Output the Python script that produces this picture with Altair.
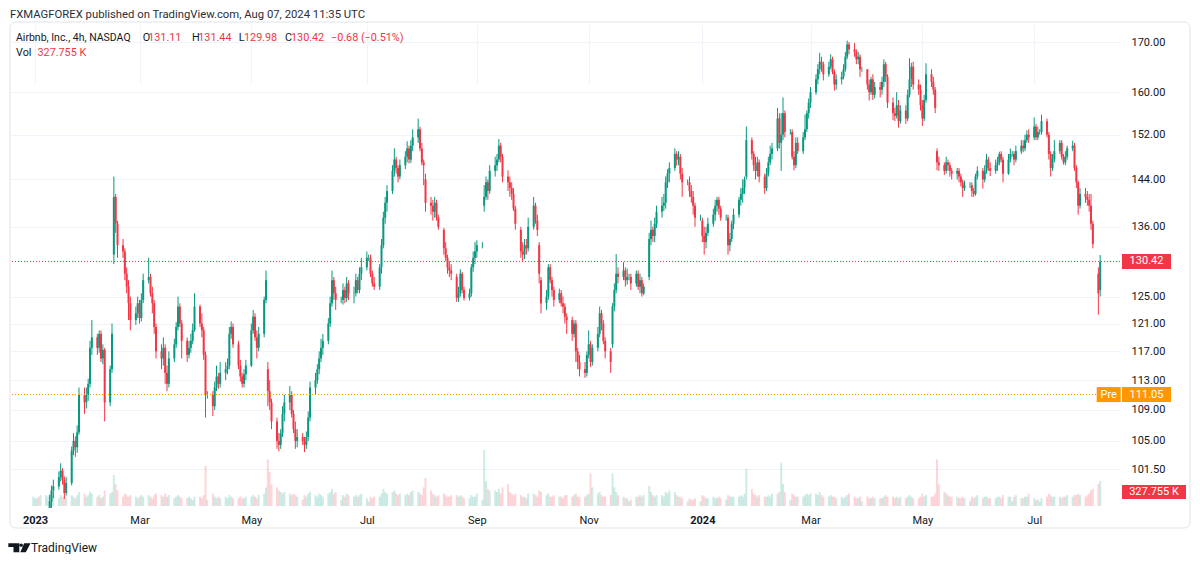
import altair as alt
import pandas as pd

UP = "#089981"
DOWN = "#f23645"
ORANGE = "#ff9800"
INK = "#131722"
GRID = "#f0f3fa"
FONT = "Roboto"

# one candle per weekday starting here (daily candles)
first_session = "2023-01-02"

opens = [
    87.5, 88.0, 88.5, 90.2, 88.3,  92.4, 94.8, 96.0, 97.6, 98.9,
    99.4, 100.5, 101.3, 100.2, 98.6,  99.8, 103.8, 105.0, 104.2, 106.1,
    111.0, 110.0, 111.0, 112.5, 117.5,  119.0, 117.5, 119.5, 116.0, 117.2,
    110.0, 114.5, 131.5, 141.0, 136.5,  133.0, 132.0, 128.5, 126.5, 124.0,
    121.5, 122.5, 124.0, 121.8, 124.5,  127.5, 128.0, 125.5, 124.0, 120.5,
    117.0, 116.0, 117.5, 114.0, 112.5,  116.0, 118.0, 120.5, 123.5, 121.0,
    118.5, 116.5, 117.5, 118.5, 120.0,  123.5, 121.0, 120.0, 116.5, 111.0,
    111.0, 109.5, 112.0, 113.5, 112.5,  114.0, 114.5, 115.0, 119.5, 120.5,
    118.0, 115.0, 113.5, 112.5, 113.8,  115.0, 120.0, 122.0, 119.0, 117.5,
    119.5, 124.5, 114.5, 111.5, 110.0,  107.5, 105.0, 104.5, 106.0, 108.5,
    110.0, 111.0, 108.5, 106.5, 105.0,  105.5, 105.0, 104.5, 105.5, 108.0,
    112.0, 113.0, 114.5, 116.0, 117.5,  118.5, 121.0, 124.0, 127.5, 125.5,
    124.5, 124.5, 126.0, 124.8, 127.0,  125.5, 125.5, 127.5, 126.0, 128.5,
    129.5, 131.0, 131.0, 128.5, 127.0,  126.5, 129.5, 133.0, 137.5, 140.0,
    142.0, 145.5, 147.5, 146.0, 144.5,  146.5, 148.0, 149.5, 147.5, 150.0,
    151.5, 153.0, 149.5, 147.0, 144.0,  140.0, 139.5, 138.5, 140.0, 137.5,
    135.5, 132.5, 131.0, 129.5, 129.0,  128.0, 124.8, 125.5, 128.5, 126.0,
    124.8, 125.5, 129.5, 131.0, 132.0,  133.0, 139.5, 141.0, 143.5, 142.0,
    145.5, 146.5, 147.5, 150.0, 148.0,  144.5, 143.5, 142.5, 141.5, 139.0,
    135.5, 132.0, 131.5, 133.0, 132.5,  136.0, 139.5, 137.0, 133.0, 127.5,
    124.0, 125.0, 129.5, 127.5, 126.0,  124.5, 125.5, 124.0, 123.5, 122.0,
    121.5, 119.5, 121.0, 117.0, 115.5,  114.5, 114.0, 116.5, 118.0, 115.5,
    117.5, 119.5, 122.5, 121.0, 118.5,  117.0, 118.0, 123.5, 126.0, 128.5,
    128.0, 129.0, 127.5, 128.0, 128.0,  127.0, 128.5, 126.5, 127.5, 125.5,
    128.0, 134.0, 135.5, 134.5, 136.5,  138.5, 139.5, 140.0, 143.5, 145.0,
    146.0, 148.5, 147.5, 148.0, 145.0,  143.5, 143.5, 142.0, 141.0, 139.5,
    137.5, 137.0, 134.5, 133.5, 135.0,  136.5, 138.0, 139.5, 140.5, 139.0,
    137.5, 137.5, 133.0, 134.0, 136.5,  138.0, 140.5, 141.5, 142.5, 144.5,
    151.0, 148.5, 146.5, 145.5, 147.0,  144.5, 142.5, 145.0, 147.0, 148.5,
    149.5, 155.0, 150.5, 152.0, 156.0,  152.5, 152.5, 148.0, 146.5, 150.5,
    149.0, 151.5, 153.0, 156.0, 158.0,  160.0, 162.5, 164.5, 166.0, 165.5,
    163.5, 165.0, 166.5, 164.0, 161.5,  162.5, 163.0, 164.5, 167.0, 169.5,
    168.5, 168.0, 166.5, 167.0, 164.5,  164.5, 161.5, 160.0, 162.5, 159.5,
    161.0, 160.5, 162.0, 165.5, 163.0,  158.0, 156.0, 155.5, 157.5, 154.5,
    156.5, 155.0, 159.5, 162.5, 165.0,  161.5, 160.5, 157.5, 155.0, 158.5,
    163.5, 162.0, 160.5, 149.0, 147.0,  146.5, 145.5, 147.0, 146.5, 145.5,
    145.0, 145.5, 144.5, 143.5, 142.5,  143.0, 143.0, 142.0, 141.5, 144.5,
    145.5, 144.0, 145.5, 147.5, 146.0,  145.5, 146.5, 147.0, 148.5, 147.5,
    145.0, 147.5, 148.5, 148.5, 147.5,  149.0, 150.0, 149.5, 151.0, 152.0,
    151.5, 153.5, 151.5, 152.5, 152.5,  154.5, 152.0, 148.5, 146.0, 147.5,
    149.0, 150.5, 148.0, 147.0, 148.0,  149.5, 150.0, 146.0, 143.5, 139.5,
    141.5, 141.0, 140.5, 139.5, 136.5,  128.5, 126.0,
]

highs = [
    89.0, 89.5, 91.0, 90.5, 93.0,  95.5, 96.8, 98.4, 99.5, 100.2,
    101.2, 102.2, 101.6, 100.6, 100.5,  104.3, 106.0, 105.6, 107.0, 112.0,
    112.0, 112.0, 113.2, 118.5, 121.5,  119.5, 120.0, 120.0, 118.0, 117.5,
    115.0, 121.0, 144.5, 141.5, 137.0,  134.0, 132.5, 129.5, 127.5, 125.0,
    123.5, 125.0, 124.5, 125.5, 128.5,  131.0, 128.5, 126.5, 124.5, 121.0,
    118.0, 119.0, 118.0, 115.0, 117.0,  118.8, 121.2, 125.0, 124.0, 121.5,
    119.0, 118.5, 119.5, 121.0, 125.5,  123.8, 122.5, 120.5, 117.0, 111.5,
    111.5, 112.8, 115.0, 114.0, 115.5,  115.5, 116.0, 120.5, 121.3, 121.0,
    118.5, 115.8, 114.0, 114.5, 115.8,  121.0, 123.0, 122.5, 120.0, 120.5,
    125.0, 129.0, 115.5, 113.0, 110.5,  108.0, 106.0, 106.5, 109.5, 111.0,
    112.2, 111.5, 109.0, 107.5, 106.5,  106.0, 105.5, 106.2, 108.8, 112.8,
    114.0, 115.2, 117.0, 118.8, 119.5,  121.8, 125.0, 129.0, 128.0, 126.5,
    125.0, 127.0, 126.5, 128.0, 127.5,  126.5, 128.5, 128.0, 129.5, 131.0,
    132.0, 131.5, 131.5, 129.0, 128.0,  130.0, 134.0, 138.5, 141.0, 143.0,
    146.5, 149.5, 148.0, 146.5, 147.5,  149.0, 150.8, 150.0, 151.0, 153.0,
    155.0, 153.5, 150.5, 147.5, 145.0,  141.0, 140.5, 141.0, 140.5, 138.0,
    135.8, 133.5, 131.5, 130.5, 130.0,  128.5, 126.5, 129.2, 128.8, 126.5,
    126.2, 130.0, 132.0, 133.5, 133.8,  133.5, 143.0, 144.5, 144.0, 146.5,
    148.0, 148.5, 151.2, 150.5, 148.5,  145.6, 144.5, 143.5, 142.5, 139.5,
    136.0, 133.5, 134.0, 134.0, 137.5,  141.0, 140.0, 138.0, 133.5, 128.0,
    126.0, 130.0, 130.0, 128.0, 126.5,  126.2, 126.0, 125.0, 124.0, 122.5,
    122.0, 121.5, 121.5, 117.5, 116.5,  115.5, 117.0, 120.0, 118.5, 118.0,
    120.5, 123.5, 123.0, 121.5, 119.0,  117.5, 124.0, 127.0, 131.6, 129.5,
    130.3, 129.5, 129.3, 128.5, 128.5,  129.0, 129.0, 128.5, 128.0, 127.0,
    135.0, 137.0, 136.0, 137.5, 139.5,  141.0, 141.5, 144.5, 145.8, 147.0,
    149.5, 149.0, 149.0, 148.5, 146.0,  144.0, 144.5, 143.0, 142.0, 140.0,
    138.0, 137.5, 136.0, 136.0, 137.5,  139.0, 140.5, 141.0, 141.0, 139.5,
    138.0, 138.0, 135.0, 137.0, 139.0,  141.0, 142.5, 144.0, 144.5, 153.5,
    151.5, 149.0, 148.0, 148.0, 147.5,  145.0, 146.0, 148.0, 150.0, 150.5,
    157.0, 156.0, 156.0, 159.0, 156.5,  153.0, 153.0, 149.0, 151.5, 151.5,
    152.5, 155.7, 156.5, 158.8, 161.0,  163.5, 165.5, 167.8, 167.0, 166.0,
    166.0, 167.5, 167.0, 164.5, 163.5,  164.0, 165.5, 168.0, 170.3, 170.0,
    169.8, 168.5, 168.0, 167.5, 165.0,  164.5, 162.5, 163.0, 163.5, 162.0,
    162.0, 163.0, 166.5, 166.0, 163.5,  159.0, 157.0, 160.0, 158.5, 157.5,
    157.5, 160.5, 166.7, 165.8, 166.0,  162.5, 161.5, 158.5, 159.5, 165.7,
    164.5, 163.0, 161.0, 149.5, 148.0,  147.0, 148.0, 147.5, 147.0, 146.0,
    146.0, 146.0, 145.0, 144.0, 143.8,  143.5, 143.5, 142.5, 145.0, 146.3,
    146.0, 146.5, 148.5, 148.0, 147.0,  147.5, 148.0, 148.9, 149.0, 148.0,
    148.5, 149.5, 149.0, 149.0, 150.0,  151.0, 151.0, 152.0, 152.8, 153.0,
    155.2, 154.0, 153.5, 153.0, 155.7,  155.0, 152.5, 149.0, 148.5, 151.0,
    151.0, 151.0, 148.5, 149.0, 150.0,  150.9, 150.5, 146.5, 143.8, 142.5,
    142.5, 142.0, 141.5, 141.5, 137.0,  129.5, 131.44,
]

lows = [
    86.5, 87.0, 88.0, 87.5, 88.0,  92.0, 94.0, 95.5, 96.8, 98.0,
    99.0, 100.0, 99.6, 97.9, 98.3,  99.5, 103.2, 103.0, 103.5, 105.8,
    108.5, 109.2, 110.2, 112.0, 116.5,  116.5, 116.8, 115.5, 115.2, 107.5,
    109.5, 114.0, 130.0, 135.0, 131.0,  131.0, 127.5, 125.5, 121.5, 120.0,
    120.8, 121.8, 121.0, 121.3, 124.0,  127.0, 125.0, 122.5, 119.5, 116.0,
    114.5, 115.0, 112.5, 111.5, 112.0,  115.5, 117.5, 120.0, 120.5, 116.0,
    115.5, 116.0, 116.8, 118.0, 119.8,  120.5, 119.0, 115.8, 108.0, 110.5,
    108.2, 109.0, 111.5, 111.8, 112.0,  113.0, 113.8, 114.5, 118.8, 117.5,
    114.5, 112.8, 112.0, 112.0, 113.0,  114.8, 119.5, 118.5, 116.0, 117.0,
    119.0, 124.0, 109.5, 109.0, 106.5,  104.0, 103.7, 104.0, 105.5, 107.5,
    109.0, 108.0, 106.0, 104.0, 104.2,  104.5, 103.6, 104.0, 105.0, 107.5,
    111.0, 112.5, 113.8, 115.5, 116.5,  118.0, 120.5, 123.5, 124.5, 123.0,
    124.0, 123.8, 124.0, 124.2, 124.5,  124.0, 125.0, 125.5, 125.5, 127.5,
    129.0, 130.5, 128.0, 126.5, 126.0,  126.0, 128.5, 132.5, 136.5, 138.5,
    141.5, 144.5, 145.0, 143.5, 144.0,  145.8, 147.0, 146.8, 146.9, 149.0,
    150.5, 149.0, 146.5, 143.0, 138.5,  138.0, 137.0, 137.5, 137.0, 135.5,
    131.5, 130.5, 128.5, 128.0, 127.5,  124.2, 124.2, 125.0, 125.5, 124.4,
    124.4, 125.0, 128.8, 130.0, 131.0,  132.5, 138.5, 140.5, 140.5, 141.5,
    144.5, 145.5, 147.0, 147.0, 143.5,  142.0, 141.0, 140.5, 138.6, 135.5,
    131.0, 130.5, 130.8, 131.5, 132.0,  135.5, 136.5, 134.5, 127.0, 122.5,
    123.0, 124.5, 127.0, 125.0, 123.5,  124.0, 123.5, 122.5, 121.0, 119.5,
    118.5, 119.0, 115.5, 114.5, 113.5,  113.3, 113.5, 116.0, 114.8, 115.0,
    117.0, 119.0, 120.0, 118.0, 116.0,  114.0, 117.5, 122.8, 125.5, 127.0,
    127.5, 126.5, 126.8, 127.5, 126.0,  126.5, 126.0, 125.5, 125.0, 125.2,
    127.5, 133.0, 133.5, 133.5, 135.8,  137.5, 138.6, 139.0, 142.5, 143.5,
    145.5, 146.4, 146.5, 144.0, 141.0,  143.0, 141.0, 140.0, 138.0, 136.0,
    137.0, 133.5, 131.5, 132.5, 134.5,  136.0, 137.0, 138.5, 138.0, 137.0,
    137.0, 131.5, 132.0, 133.5, 135.6,  137.5, 139.5, 140.0, 141.5, 144.0,
    147.5, 145.5, 144.0, 144.5, 143.5,  141.5, 142.0, 144.5, 146.5, 147.5,
    149.0, 149.5, 145.5, 151.0, 151.5,  152.0, 147.5, 145.6, 146.0, 148.5,
    148.5, 151.0, 152.5, 155.0, 157.0,  159.5, 161.5, 163.5, 164.0, 162.3,
    163.0, 164.5, 163.5, 160.3, 160.5,  161.5, 162.5, 164.0, 166.5, 167.5,
    167.0, 165.5, 165.5, 163.0, 164.0,  160.5, 158.4, 159.5, 158.5, 158.8,
    159.0, 159.5, 161.0, 162.0, 157.0,  154.7, 154.5, 155.0, 153.3, 154.0,
    154.0, 154.5, 159.0, 161.0, 160.5,  159.5, 156.5, 153.6, 154.5, 158.0,
    161.0, 159.5, 156.0, 145.6, 145.5,  144.8, 145.0, 145.5, 144.5, 144.0,
    144.0, 143.5, 142.8, 141.0, 142.0,  142.5, 141.0, 141.0, 141.2, 144.0,
    142.4, 143.5, 145.0, 145.5, 144.6,  145.0, 145.5, 146.5, 147.0, 143.5,
    144.8, 147.0, 148.0, 146.5, 147.0,  148.5, 148.8, 149.0, 150.5, 150.5,
    151.0, 151.0, 151.0, 152.0, 152.0,  151.5, 147.5, 144.5, 145.5, 147.0,
    148.5, 147.5, 146.6, 146.5, 147.5,  149.0, 145.5, 142.5, 138.0, 139.0,
    140.0, 139.5, 138.5, 135.5, 132.5,  122.3, 125.0,
]

closes = [
    88.0, 88.5, 90.2, 88.3, 92.4,  94.8, 96.0, 97.6, 98.9, 99.4,
    100.5, 101.3, 100.2, 98.6, 99.8,  103.8, 105.0, 104.2, 106.1, 111.0,
    110.0, 111.0, 112.5, 117.5, 119.0,  117.5, 119.5, 116.0, 117.2, 110.0,
    114.5, 119.5, 141.0, 136.5, 133.0,  132.0, 128.5, 126.5, 124.0, 121.5,
    122.5, 124.0, 121.8, 124.5, 127.5,  128.0, 125.5, 124.0, 120.5, 117.0,
    116.0, 117.5, 114.0, 112.5, 116.0,  118.0, 120.5, 123.5, 121.0, 118.5,
    116.5, 117.5, 118.5, 120.0, 123.5,  121.0, 120.0, 116.5, 111.0, 111.0,
    109.5, 112.0, 113.5, 112.5, 114.0,  114.5, 115.0, 119.5, 120.5, 118.0,
    115.0, 113.5, 112.5, 113.8, 115.0,  120.0, 122.0, 119.0, 117.5, 119.5,
    124.5, 127.5, 111.5, 110.0, 107.5,  105.0, 104.5, 106.0, 108.5, 110.0,
    111.0, 108.5, 106.5, 105.0, 105.5,  105.0, 104.5, 105.5, 108.0, 112.0,
    113.0, 114.5, 116.0, 117.5, 118.5,  121.0, 124.0, 127.5, 125.5, 124.5,
    124.5, 126.0, 124.8, 127.0, 125.5,  125.5, 127.5, 126.0, 128.5, 129.5,
    131.0, 131.0, 128.5, 127.0, 126.5,  129.5, 133.0, 137.5, 140.0, 142.0,
    145.5, 147.5, 146.0, 144.5, 146.5,  148.0, 149.5, 147.5, 150.0, 151.5,
    153.0, 149.5, 147.0, 146.5, 140.0,  139.5, 138.5, 140.0, 137.5, 136.0,
    132.5, 131.0, 129.5, 129.0, 128.5,  124.8, 125.5, 128.5, 126.0, 124.8,
    125.5, 129.5, 131.0, 132.0, 133.0,  133.0, 141.0, 143.5, 142.0, 145.5,
    146.5, 147.5, 150.0, 148.0, 144.5,  143.5, 142.5, 141.5, 139.0, 136.5,
    132.0, 131.5, 133.0, 132.5, 136.0,  139.5, 137.0, 135.5, 128.5, 124.0,
    125.0, 129.5, 127.5, 126.0, 124.5,  125.5, 124.0, 123.5, 122.0, 121.5,
    119.5, 121.0, 117.0, 115.5, 114.5,  114.0, 116.5, 118.0, 115.5, 117.5,
    119.5, 122.5, 121.0, 118.5, 117.0,  115.5, 123.5, 126.0, 128.5, 128.0,
    129.0, 127.5, 128.0, 128.0, 127.0,  128.5, 126.5, 127.5, 125.5, 126.5,
    134.0, 135.5, 134.5, 136.5, 138.5,  139.5, 140.0, 143.5, 145.0, 146.0,
    148.5, 147.5, 148.0, 145.0, 143.5,  143.5, 142.0, 141.0, 139.5, 137.5,
    137.5, 134.5, 133.5, 135.0, 136.5,  138.0, 139.5, 140.5, 139.0, 137.5,
    137.5, 133.0, 134.0, 136.5, 138.0,  140.5, 141.5, 142.5, 144.0, 151.0,
    148.5, 146.5, 145.5, 147.0, 144.5,  142.5, 145.0, 147.0, 148.5, 149.5,
    155.0, 150.5, 152.0, 156.0, 152.5,  152.5, 148.0, 146.5, 150.5, 149.0,
    151.5, 153.0, 156.0, 158.0, 160.0,  162.5, 164.5, 166.0, 165.5, 163.5,
    165.0, 166.5, 164.0, 161.5, 162.5,  163.0, 164.5, 167.0, 169.5, 168.5,
    168.0, 166.5, 167.0, 164.5, 164.5,  161.5, 160.0, 162.5, 159.5, 161.0,
    160.5, 162.0, 165.5, 163.0, 158.0,  156.0, 155.5, 157.5, 154.5, 156.5,
    155.0, 159.5, 162.5, 165.0, 161.5,  160.5, 157.5, 155.0, 158.5, 163.5,
    162.0, 160.5, 157.0, 147.0, 146.5,  145.5, 147.0, 146.5, 145.5, 145.0,
    145.5, 144.5, 143.5, 142.5, 143.0,  143.0, 142.0, 141.5, 144.5, 145.5,
    144.0, 145.5, 147.5, 146.0, 145.5,  146.5, 147.0, 148.5, 147.5, 145.0,
    147.5, 148.5, 148.5, 147.5, 149.0,  150.0, 149.5, 151.0, 152.0, 151.5,
    153.5, 151.5, 152.5, 152.5, 154.5,  152.0, 148.5, 146.0, 147.5, 149.0,
    150.5, 148.0, 147.0, 148.0, 149.5,  150.0, 146.0, 143.5, 139.5, 141.5,
    141.0, 140.5, 139.5, 136.5, 133.2,  125.5, 130.42,
]

# volume in millions of shares
volumes = [
    6, 5, 5, 6, 7,  7, 6, 7, 8, 6,  5, 7, 6, 6, 5,  7, 6, 5, 7, 9,
    8, 6, 7, 9, 8,  6, 7, 5, 6, 10,  8, 9, 20, 14, 10,  6, 8, 7, 6, 7,
    6, 5, 6, 7, 6,  7, 6, 5, 7, 8,  7, 6, 8, 6, 7,  5, 6, 7, 6, 5,
    5, 6, 5, 4, 6,  6, 5, 7, 26, 4,  8, 6, 5, 6, 5,  6, 5, 7, 6, 5,
    5, 6, 5, 5, 6,  6, 7, 6, 5, 7,  8, 12, 30, 22, 14,  12, 10, 9, 8, 9,
    8, 7, 8, 7, 6,  4, 7, 6, 8, 9,  7, 6, 8, 7, 6,  8, 9, 11, 8, 9,
    4, 7, 6, 8, 7,  6, 7, 6, 7, 8,  5, 3, 6, 5, 6,  6, 8, 11, 9, 8,
    9, 10, 8, 7, 8,  7, 8, 7, 9, 10,  9, 8, 7, 12, 18,  10, 8, 7, 6, 7,
    8, 7, 6, 6, 7,  7, 6, 7, 6, 5,  5, 7, 6, 6, 8,  4, 36, 16, 11, 10,
    10, 9, 11, 8, 12,  14, 9, 8, 7, 8,  7, 6, 6, 5, 8,  8, 7, 6, 10, 9,
    7, 8, 6, 6, 7,  6, 6, 5, 7, 7,  6, 7, 8, 6, 6,  6, 7, 8, 21, 12,
    8, 9, 7, 6, 6,  7, 21, 12, 9, 7,  6, 5, 5, 3, 4,  6, 6, 7, 6, 7,
    13, 9, 7, 6, 7,  7, 6, 9, 8, 10,  9, 7, 6, 6, 5,  3, 5, 4, 4, 5,
    3, 7, 6, 5, 5,  6, 5, 5, 6, 5,  4, 7, 6, 6, 6,  6, 7, 6, 8, 24,
    11, 8, 7, 6, 7,  6, 6, 7, 6, 8,  8, 9, 28, 14, 9,  4, 8, 7, 6, 6,
    6, 7, 8, 7, 8,  8, 7, 9, 7, 6,  6, 7, 6, 6, 5,  6, 5, 6, 7, 8,
    6, 5, 5, 6, 3,  6, 5, 5, 6, 5,  5, 5, 6, 7, 6,  6, 5, 6, 5, 6,
    5, 6, 7, 6, 5,  5, 6, 8, 6, 7,  6, 6, 8, 30, 14,  9, 8, 7, 6, 6,
    6, 5, 5, 6, 5,  3, 6, 5, 6, 7,  5, 6, 6, 5, 5,  5, 6, 6, 5, 7,
    6, 6, 3, 6, 7,  5, 5, 6, 6, 8,  5, 4, 4, 3, 5,  6, 8, 7, 6, 6,
    6, 5, 6, 6, 7,  6, 7, 7, 8, 7,  6, 7, 8, 10, 11,  14, 16,
]

price_ticks = [170, 160, 152, 144, 136, 125, 121, 117, 113, 109, 105, 101.5]
month_ticks = ["2023-01-03", "2023-03-01", "2023-05-01", "2023-07-03", "2023-09-01",
               "2023-11-01", "2024-01-02", "2024-03-01", "2024-05-01", "2024-07-01"]
view_start = "2022-12-23 02:00"
view_end = "2024-08-14 02:00"
price_low, price_high = 96.83, 173.95
volume_top = 38

last_close = 130.42
pre_market = 111.05
last_volume_label = "327.755 K"
title_text = "FXMAGFOREX published on TradingView.com, Aug 07, 2024 11:35 UTC"
symbol_text = "Airbnb, Inc., 4h, NASDAQ"
ohlc_letters = ["O", "H", "L", "C"]
ohlc_values = ["131.11", "131.44", "129.98", "130.42"]
change_text = "\u22120.68 (\u22120.51%)"

n = min(len(opens), len(highs), len(lows), len(closes), len(volumes))
dates = pd.bdate_range(first_session, periods=n).strftime("%Y-%m-%d")
df = pd.DataFrame({
    "date": list(dates),
    "open": opens[:n], "high": highs[:n], "low": lows[:n], "close": closes[:n],
    "volume": volumes[:n],
})


def dt(s):
    t = pd.Timestamp(s)
    return alt.DateTime(year=t.year, month=t.month, date=t.day, hours=t.hour, utc=True)


xscale = alt.Scale(type="utc", domain=[dt(view_start), dt(view_end)], nice=False)
yscale = alt.Scale(type="log", domain=[price_low, price_high], nice=False)

x_axis = alt.Axis(
    values=[dt(m) for m in month_ticks],
    labelExpr="utcmonth(datum.value) == 0 ? utcFormat(datum.value, '%Y') : utcFormat(datum.value, '%b')",
    labelFontWeight=alt.condition("utcmonth(datum.value) == 0", alt.value("bold"), alt.value("normal")),
    grid=True, gridColor=GRID, ticks=False, domain=False, labelPadding=6,
    labelFontSize=11, labelColor=INK, labelFont=FONT, title=None,
    labelOverlap=False, labelFlush=False,
)
y_axis = alt.Axis(
    orient="right", values=price_ticks, format=".2f", grid=True, gridColor=GRID,
    ticks=False, domain=False, labelPadding=11, labelFontSize=11, labelColor=INK,
    labelFont=FONT, title=None, labelOverlap=False,
)

X = alt.X("date:T", scale=xscale, axis=x_axis, title=None)
candle_color = alt.condition("datum.close >= datum.open", alt.value(UP), alt.value(DOWN))

base = alt.Chart(df)
wicks = base.mark_rule(strokeWidth=1, clip=True).encode(
    x=X,
    y=alt.Y("low:Q", scale=yscale, axis=y_axis),
    y2="high:Q",
    color=candle_color,
)
bodies = base.mark_bar(width=2, clip=True).encode(
    x=X,
    y=alt.Y("open:Q", scale=yscale, axis=None),
    y2="close:Q",
    color=candle_color,
)
vol = base.mark_bar(width=2, opacity=0.2, clip=True).encode(
    x=X,
    y=alt.Y("volume:Q", scale=alt.Scale(domain=[0, volume_top], range=[483, 424]), axis=None),
    color=candle_color,
)

dummy = pd.DataFrame({"k": [0]})

border = alt.Chart(dummy).mark_rect(
    fillOpacity=0, stroke="#e0e3eb", strokeWidth=1, cornerRadius=6
).encode(x=alt.value(0), x2=alt.value(1180), y=alt.value(-1), y2=alt.value(505))

close_df = pd.DataFrame({"v": [last_close]})
pre_df = pd.DataFrame({"v": [pre_market]})

close_rule = alt.Chart(close_df).mark_rule(color=DOWN, strokeWidth=1, strokeDash=[1, 2]).encode(
    y=alt.Y("v:Q", scale=yscale, axis=None))
pre_rule = alt.Chart(pre_df).mark_rule(color=ORANGE, strokeWidth=1, strokeDash=[1, 2]).encode(
    y=alt.Y("v:Q", scale=yscale, axis=None))

BOX = "M-0.98,-0.3H0.98V0.3H-0.98Z"
PRE_BOX = "M-0.48,-0.3H0.48V0.3H-0.48Z"
VOL_BOX = "M-1.28,-0.28H1.28V0.28H-1.28Z"


def tag(df_, shape, color, xpos):
    return alt.Chart(df_).mark_point(shape=shape, size=2500, filled=True, color=color,
                                     opacity=1, strokeWidth=0).encode(
        x=alt.value(xpos), y=alt.Y("v:Q", scale=yscale, axis=None))


def tag_text(df_, text, xpos):
    return alt.Chart(df_).mark_text(text=text, color="white", font=FONT, fontSize=11,
                                    align="center", baseline="middle").encode(
        x=alt.value(xpos), y=alt.Y("v:Q", scale=yscale, axis=None))


close_tag = tag(close_df, BOX, DOWN, 1136.5)
close_tag_t = tag_text(close_df, f"{last_close:.2f}", 1136.5)
pre_tag = tag(pre_df, PRE_BOX, ORANGE, 1098.7)
pre_tag_t = tag_text(pre_df, "Pre", 1098.7)
pre_val = tag(pre_df, BOX, ORANGE, 1136.5)
pre_val_t = tag_text(pre_df, f"{pre_market:.2f}", 1136.5)

vol_tag = alt.Chart(dummy).mark_point(shape=VOL_BOX, size=2500, filled=True, color=DOWN,
                                      opacity=1, strokeWidth=0).encode(
    x=alt.value(1144), y=alt.value(469))
vol_tag_t = alt.Chart(dummy).mark_text(text=last_volume_label, color="white", font=FONT,
                                       fontSize=11, align="center", baseline="middle").encode(
    x=alt.value(1144), y=alt.value(469))


def label(text, x, y, color=INK, size=11, weight="normal", align="left"):
    return alt.Chart(dummy).mark_text(text=text, align=align, baseline="middle", font=FONT,
                                      fontSize=size, fontWeight=weight, color=color).encode(
        x=alt.value(x), y=alt.value(y))


texts = [
    label(title_text, 0, -8, color="#2a2e39", size=11.3),
    label(symbol_text, 6, 15, size=10.5),
    label("Vol", 6, 30, size=10.8),
    label(last_volume_label, 27.5, 30, color=DOWN, size=10.8),
    label(change_text, 321, 15, color=DOWN, size=10.8),
]
letter_x = [132.7, 182, 228.7, 275]
value_x = [138.2, 188.3, 234, 281]
for letter, val, lx, vx in zip(ohlc_letters, ohlc_values, letter_x, value_x):
    texts.append(label(letter, lx, 15, size=10.8))
    texts.append(label(val, vx, 15, color=DOWN, size=10.8))

LOGO = ("M-0.99,-0.41H0.01V0.41H-0.52V-0.07H-0.99Z "
        "M0.025,-0.24a0.155,0.155 0 1,0 0.31,0a0.155,0.155 0 1,0 -0.31,0Z "
        "M0.45,-0.41H1.03L0.6,0.41H0.1Z")
logo = alt.Chart(dummy).mark_point(shape=LOGO, size=484, filled=True, color=INK,
                                   opacity=1, strokeWidth=0).encode(
    x=alt.value(9.2), y=alt.value(524.8))
brand = label("TradingView", 21, 525, color=INK, size=12)

chart = alt.layer(
    border, vol, wicks, bodies, close_rule, pre_rule,
    close_tag, close_tag_t, pre_tag, pre_tag_t, pre_val, pre_val_t, vol_tag, vol_tag_t,
    *texts, logo, brand,
).resolve_scale(y="independent").properties(
    width=1110, height=485,
    padding={"left": 2, "top": 15, "right": 72, "bottom": 46},
    autosize=alt.AutoSizeParams(type="none"),
    background="white",
).configure_view(stroke=None)

chart.save("out.html", embed_options={"renderer": "svg", "actions": False})
